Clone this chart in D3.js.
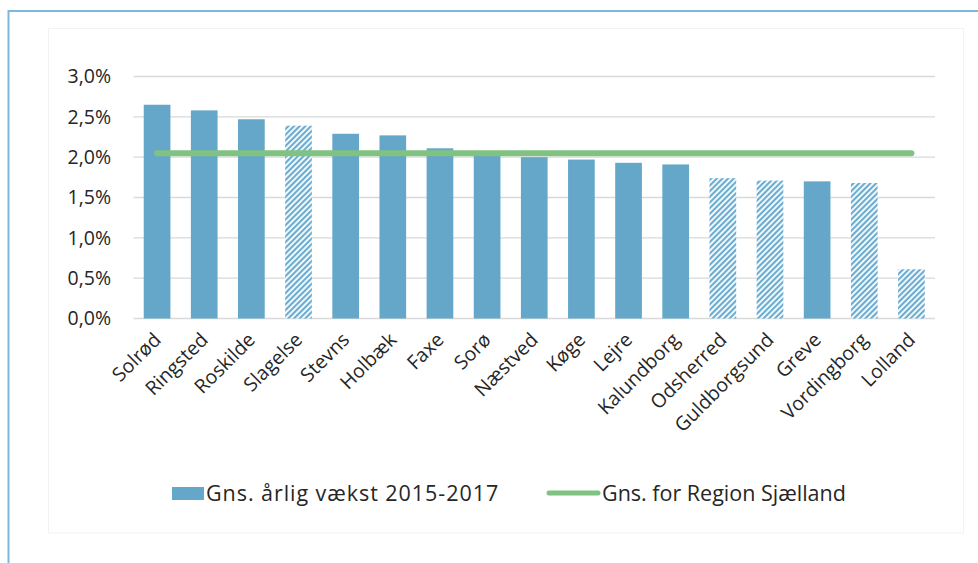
<!DOCTYPE html>
<html>
<head>
<meta charset="utf-8">
<script src="https://cdn.jsdelivr.net/npm/d3@7/dist/d3.min.js"></script>
<style>
  html, body { margin: 0; padding: 0; background: #fff; }
  svg { display: block; font-family: "Open Sans", "Noto Sans", sans-serif; }
</style>
</head>
<body>
<svg id="chart" width="978" height="563"></svg>
<script>
// Kommuner, sorteret efter gennemsnitlig årlig vækst 2015-2017
const categories = ["Solrød", "Ringsted", "Roskilde", "Slagelse", "Stevns", "Holbæk", "Faxe", "Sorø",
  "Næstved", "Køge", "Lejre", "Kalundborg", "Odsherred", "Guldborgsund", "Greve", "Vordingborg", "Lolland"];
const growth = [0.0265, 0.0258, 0.0247, 0.0239, 0.0229, 0.0227, 0.0211, 0.0206,
  0.0200, 0.0197, 0.0193, 0.0191, 0.0174, 0.0171, 0.0170, 0.0168, 0.0061];
// Kommuner vist med skravering
const hatched = ["Slagelse", "Odsherred", "Guldborgsund", "Vordingborg", "Lolland"];
const regionAverage = 0.0205;
const yTicks = [0, 0.005, 0.01, 0.015, 0.02, 0.025, 0.03];
const seriesNames = ["Gns. årlig vækst 2015-2017", "Gns. for Region Sjælland"];

const barColor = "#64a7c9";
const lineColor = "#80c282";
const textColor = "#262626";

const svg = d3.select("#chart");

// hatch pattern
const defs = svg.append("defs");
const pat = defs.append("pattern")
  .attr("id", "hatch")
  .attr("patternUnits", "userSpaceOnUse")
  .attr("width", 4).attr("height", 4)
  .attr("patternTransform", "rotate(45)");
pat.append("rect").attr("width", 4).attr("height", 4).attr("fill", "#fff");
pat.append("rect").attr("width", 2.2).attr("height", 4).attr("fill", "#6aadd0");

// outer frame
svg.append("line").attr("x1", 8).attr("x2", 978).attr("y1", 11).attr("y2", 11)
  .attr("stroke", "#7db7dc").attr("stroke-width", 2);
svg.append("line").attr("x1", 8.5).attr("x2", 8.5).attr("y1", 10).attr("y2", 563)
  .attr("stroke", "#7db7dc").attr("stroke-width", 2);

// chart area
svg.append("rect").attr("x", 48.5).attr("y", 28.5).attr("width", 915).attr("height", 504.5)
  .attr("fill", "none").attr("stroke", "#f2f2f2").attr("stroke-width", 1);

const x = d3.scaleBand().domain(categories).range([133.5, 935])
  .paddingInner(0.434).paddingOuter(0.217);
const y = d3.scaleLinear().domain([0, 0.03]).range([318.5, 76.5]);

const fmt = v => d3.format(".1%")(v).replace(".", ",");

// gridlines
svg.append("g").selectAll("line").data(yTicks).join("line")
  .attr("x1", 133.5).attr("x2", 935)
  .attr("y1", d => y(d)).attr("y2", d => y(d))
  .attr("stroke", "#d9d9d9").attr("stroke-width", 1.3);

// y tick labels
svg.append("g").selectAll("text").data(yTicks).join("text")
  .attr("x", 111).attr("y", d => y(d))
  .attr("dy", "0.35em")
  .attr("text-anchor", "end")
  .attr("font-size", 19.5)
  .attr("fill", textColor)
  .text(fmt);

// bars
const data = categories.map((c, i) => ({ c, v: growth[i], h: hatched.includes(c) }));
svg.append("g").selectAll("rect").data(data).join("rect")
  .attr("x", d => x(d.c))
  .attr("width", x.bandwidth())
  .attr("y", d => y(d.v))
  .attr("height", d => y(0) - y(d.v))
  .attr("fill", d => d.h ? "url(#hatch)" : barColor);

// region average line
svg.append("line")
  .attr("x1", x(categories[0]) + x.bandwidth() / 2)
  .attr("x2", x(categories[categories.length - 1]) + x.bandwidth() / 2)
  .attr("y1", y(regionAverage)).attr("y2", y(regionAverage))
  .attr("stroke", lineColor).attr("stroke-width", 6).attr("stroke-linecap", "round");

// category labels
svg.append("g").selectAll("text").data(categories).join("text")
  .attr("transform", d => `translate(${x(d) + x.bandwidth() / 2 + 5},${341}) rotate(-45)`)
  .attr("text-anchor", "end")
  .attr("font-size", 19.5)
  .attr("fill", textColor)
  .text(d => d);

// legend
const lg = svg.append("g");
lg.append("rect").attr("x", 172).attr("y", 487).attr("width", 32).attr("height", 13).attr("fill", barColor);
lg.append("text").attr("x", 206).attr("y", 493).attr("dy", "0.35em")
  .attr("font-size", 21.5).attr("letter-spacing", 0.95).attr("fill", textColor).text(seriesNames[0]);
lg.append("line").attr("x1", 549).attr("x2", 598).attr("y1", 493).attr("y2", 493)
  .attr("stroke", lineColor).attr("stroke-width", 5).attr("stroke-linecap", "round");
lg.append("text").attr("x", 602).attr("y", 493).attr("dy", "0.35em")
  .attr("font-size", 21.5).attr("fill", textColor).text(seriesNames[1]);
</script>
</body>
</html>
